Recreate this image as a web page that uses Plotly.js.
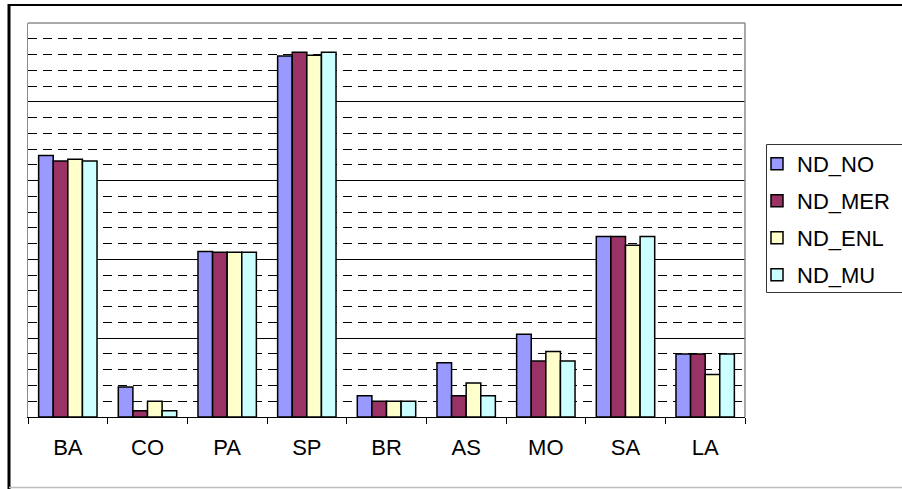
<!DOCTYPE html>
<html>
<head>
<meta charset="utf-8">
<script src="https://cdn.plot.ly/plotly-3.0.1.min.js"></script>
<style>
  html, body { margin: 0; padding: 0; background: #fff; }
  #chart { width: 902px; height: 489px; }
</style>
</head>
<body>
<div id="chart"></div>
<script>
// ---- Data ----
const categories = ['BA', 'CO', 'PA', 'SP', 'BR', 'AS', 'MO', 'SA', 'LA'];
const seriesNames = ['ND_NO', 'ND_MER', 'ND_ENL', 'ND_MU'];
const ND_NO  = [16.6, 1.9, 10.5, 22.9, 1.35, 3.45, 5.25, 11.45, 4.0];
const ND_MER = [16.25, 0.4, 10.45, 23.15, 1.0, 1.35, 3.55, 11.45, 4.0];
const ND_ENL = [16.35, 1.0, 10.45, 22.95, 1.0, 2.15, 4.15, 10.9, 2.7];
const ND_MU  = [16.25, 0.4, 10.45, 23.15, 1.0, 1.35, 3.55, 11.45, 4.0];
const seriesValues = [ND_NO, ND_MER, ND_ENL, ND_MU];
const seriesColors = ['#9999FF', '#993366', '#FFFFCC', '#CCFFFF'];

// ---- Layout geometry (pixels) ----
const W = 902, H = 489;
const plotL = 28, plotR = 745, plotT = 23, plotB = 417;
const px2x = p => (p - plotL) / (plotR - plotL);
const px2y = p => (plotB - p) / (plotB - plotT);

const font = { family: '"Liberation Sans", Arial, sans-serif', size: 22, color: '#000' };

const traces = seriesNames.map((name, i) => ({
  type: 'bar',
  name: name,
  x: categories,
  y: seriesValues[i],
  legendgroup: name,
  marker: { color: seriesColors[i], line: { color: '#000', width: 1.5 } },
  hoverinfo: 'skip'
}));

const shapes = [
  // plot area border (gray, top and right)
  { type: 'line', xref: 'paper', yref: 'paper', x0: 0, x1: 1, y0: 1, y1: 1,
    line: { color: '#8c8c8c', width: 1.5 }, layer: 'above' },
  { type: 'line', xref: 'paper', yref: 'paper', x0: 1, x1: 1, y0: 0, y1: 1,
    line: { color: '#8c8c8c', width: 1.5 }, layer: 'above' },
  // outer chart frame
  { type: 'line', xref: 'paper', yref: 'paper', x0: px2x(9), x1: px2x(9), y0: px2y(4), y1: px2y(489),
    line: { color: '#000', width: 3 } },
  { type: 'line', xref: 'paper', yref: 'paper', x0: px2x(8), x1: px2x(905), y0: px2y(5), y1: px2y(5),
    line: { color: '#000', width: 2 } },
  { type: 'line', xref: 'paper', yref: 'paper', x0: px2x(9), x1: px2x(905), y0: px2y(487.5), y1: px2y(487.5),
    line: { color: '#bdbdbd', width: 1.5 } },
  // legend box
  { type: 'rect', xref: 'paper', yref: 'paper', x0: px2x(766.5), x1: px2x(910), y0: px2y(292.5), y1: px2y(144.5),
    line: { color: '#333', width: 1 }, fillcolor: 'rgba(0,0,0,0)' }
];

const layout = {
  width: W, height: H,
  margin: { l: plotL, r: W - plotR, t: plotT, b: H - plotB, autoexpand: false },
  paper_bgcolor: '#fff',
  plot_bgcolor: '#fff',
  font: font,
  barmode: 'group',
  bargap: 0.267,
  bargroupgap: 0,
  showlegend: true,
  legend: {
    x: px2x(757), xanchor: 'left',
    y: px2y(143), yanchor: 'top',
    bgcolor: 'rgba(0,0,0,0)', borderwidth: 0,
    traceorder: 'grouped', tracegroupgap: 5.4,
    font: font
  },
  xaxis: {
    type: 'category',
    showgrid: false,
    showline: true, linecolor: '#000', linewidth: 1,
    ticks: 'outside', tickson: 'boundaries', ticklen: 6, tickcolor: '#000', tickwidth: 1,
    tickfont: font,
    ticklabelstandoff: 11,
    fixedrange: true
  },
  yaxis: {
    range: [0, 25],
    dtick: 5,
    showticklabels: false,
    ticks: '',
    showgrid: true, gridcolor: '#000', gridwidth: 1,
    zeroline: false,
    showline: true, linecolor: '#8c8c8c', linewidth: 1.5,
    minor: { dtick: 1, showgrid: true, gridcolor: '#000', gridwidth: 1, griddash: '9px,6px', ticks: '' },
    fixedrange: true
  },
  shapes: shapes
};

Plotly.newPlot('chart', traces, layout, { displayModeBar: false, staticPlot: true });
</script>
</body>
</html>
